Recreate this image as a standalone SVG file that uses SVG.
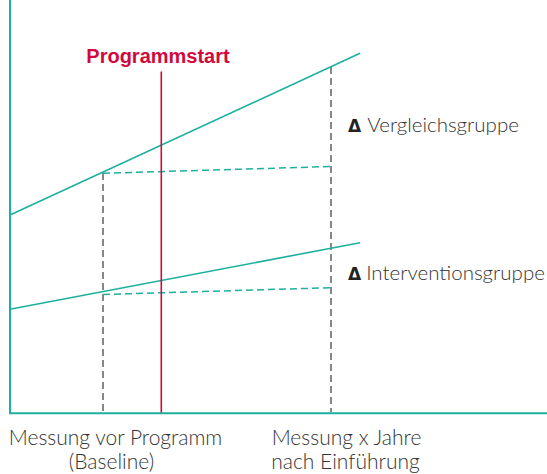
<svg xmlns="http://www.w3.org/2000/svg" width="547" height="474" viewBox="0 0 547 474">
<style>
.axis{stroke:#1cb09e;stroke-width:2;fill:none}
.trend{stroke:#1cb09e;stroke-width:1.6;fill:none}
.tdash{stroke:#1cb09e;stroke-width:1.5;stroke-dasharray:7 4;fill:none}
.gdash{stroke:#555;stroke-width:1.4;stroke-dasharray:7 4;fill:none}
.red{stroke:#cf0a3c;stroke-width:1.6;fill:none}
.lbl{font-family:Lato,"Liberation Sans",sans-serif;font-weight:300;font-size:21px;fill:#333}
.dl{font-family:Lato,"Liberation Sans",sans-serif;font-weight:300;font-size:20.5px;fill:#333}
.delta{font-family:"DejaVu Sans","Liberation Sans",sans-serif;font-weight:bold;font-size:17px;fill:#222}
.title{font-family:"Liberation Sans",Arial,sans-serif;font-weight:bold;font-size:20px;fill:#d10a3c}
</style>
<rect width="547" height="474" fill="#fff"/>
<g id="connectors">
<line class="gdash" x1="103" y1="173" x2="103" y2="412"/>
<line class="gdash" x1="331" y1="67" x2="331" y2="412"/>
<line class="tdash" x1="103" y1="173.3" x2="331" y2="166.5"/>
<line class="tdash" x1="103" y1="294.5" x2="331" y2="287.7"/>
<line class="trend" x1="10" y1="215" x2="360" y2="53.3"/>
<line class="trend" x1="10" y1="309.3" x2="360" y2="242.7"/>
<line class="red" x1="161.3" y1="71.5" x2="161.3" y2="413"/>
</g>
<g id="axes">
<line class="axis" x1="10" y1="0" x2="10" y2="414"/>
<line class="axis" x1="9" y1="413.3" x2="547" y2="413.3"/>
</g>
<g id="programmstart">
<text class="title" x="158" y="63" text-anchor="middle">Programmstart</text>
</g>
<g id="delta-vergleich">
<text x="348" y="132"><tspan class="delta">Δ</tspan><tspan class="dl" dx="6">Vergleichsgruppe</tspan></text>
</g>
<g id="delta-intervention">
<text x="348" y="280"><tspan class="delta">Δ</tspan><tspan class="dl" dx="5">Interventionsgruppe</tspan></text>
</g>
<g id="label-baseline">
<text class="lbl" x="115.5" y="445" text-anchor="middle">Messung vor Programm</text>
<text class="lbl" x="111.5" y="469" text-anchor="middle">(Baseline)</text>
</g>
<g id="label-followup">
<text class="lbl" x="346.5" y="445" text-anchor="middle">Messung x Jahre</text>
<text class="lbl" x="345.5" y="469" text-anchor="middle">nach Einführung</text>
</g>
</svg>
